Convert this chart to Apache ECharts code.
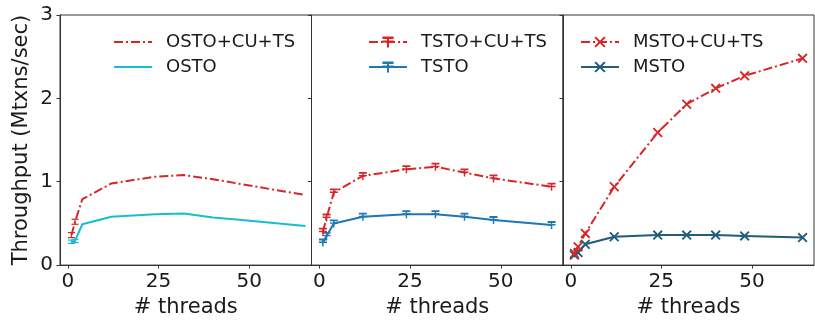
<!DOCTYPE html>
<html>
<head>
<meta charset="utf-8">
<script src="https://cdn.jsdelivr.net/npm/echarts@6/dist/echarts.min.js"></script>
<style>
html,body{margin:0;padding:0;background:#fff;}
#c{width:815px;height:323px;}
</style>
</head>
<body>
<div id="c"></div>
<script>
// ---- data ----
const threads = [1, 2, 4, 12, 24, 32, 40, 48, 64];
const threadsOsto = [1, 2, 4, 12, 24, 32, 40, 48, 65.5];
const ostoCuTs = [0.36, 0.52, 0.79, 0.98, 1.06, 1.08, 1.03, 0.97, 0.84];
const osto = [0.28, 0.29, 0.49, 0.58, 0.61, 0.62, 0.57, 0.54, 0.47];
const tstoCuTs = [0.40, 0.57, 0.87, 1.07, 1.15, 1.18, 1.11, 1.04, 0.94];
const tsto = [0.27, 0.35, 0.50, 0.58, 0.61, 0.61, 0.58, 0.54, 0.48];
const mstoCuTs = [0.14, 0.22, 0.38, 0.94, 1.59, 1.93, 2.12, 2.27, 2.48];
const msto = [0.12, 0.15, 0.25, 0.34, 0.36, 0.36, 0.36, 0.35, 0.33];
const errThreads = [1, 2];
const ostoCuTsErr = [0.03, 0.03];
const ostoErr = [0.02, 0.02];
const xTicks = [0, 25, 50];
const yTicks = [0, 1, 2, 3];

const RED = '#d62728';
const CYAN = '#17becf';
const BLUE = '#1f77b4';
const TEAL = '#1f5d78';
const FONT = 'DejaVu Sans';
const TXT = '#1a1a1a';

const pairs = (xs, ys) => xs.map((x, i) => [x, ys[i]]);
const errData = (xs, ys, es) => xs.map((x, i) => [x, ys[i], es[i]]);

const T_SYMBOL = 'path://M0,0H10V1.8H0Z M0,3H10V4.4H0Z M4.1,0H5.9V8H4.1Z';
const X_SYMBOL = 'path://M0,1.3L1.3,0L10,8.7L8.7,10Z M8.7,0L10,1.3L1.3,10L0,8.7Z';
const DASHDOT = [9, 3, 2, 3];

const gridLefts = [60, 311.5, 563];
const gridWidths = [251.5, 251.5, 251];

const grids = gridLefts.map((l, i) => ({
  left: l, top: 15, width: gridWidths[i], height: 254,
  show: true, borderColor: '#333', borderWidth: 1, containLabel: false
}));

const xAxes = gridLefts.map((l, i) => ({
  type: 'value', gridIndex: i, min: -2.15, max: 67.15,
  name: '# threads', nameLocation: 'middle', nameGap: 30,
  nameTextStyle: { fontFamily: FONT, fontSize: 21, color: TXT },
  axisLine: { show: true, onZero: false, lineStyle: { color: '#333', width: 1 } },
  axisTick: { show: true, inside: false, length: 3.5, customValues: xTicks, lineStyle: { color: '#333' } },
  axisLabel: { customValues: xTicks, margin: 7, fontFamily: FONT, fontSize: 20, color: TXT },
  splitLine: { show: false }
}));

const yAxes = gridLefts.map((l, i) => ({
  type: 'value', gridIndex: i, min: 0, max: 3, interval: 1,
  name: i === 0 ? 'Throughput (Mtxns/sec)' : '',
  nameLocation: 'middle', nameGap: 28, nameRotate: 90,
  nameTextStyle: { fontFamily: FONT, fontSize: 21, color: TXT },
  axisLine: { show: true, onZero: false, lineStyle: { color: '#333', width: 1 } },
  axisTick: { show: true, inside: false, length: 3.5, lineStyle: { color: '#333' } },
  axisLabel: { show: i === 0, margin: 7, fontFamily: FONT, fontSize: 20, color: TXT,
    formatter: v => yTicks.includes(v) ? String(v) : '' },
  splitLine: { show: false }
}));

function lineSeries(name, idx, xs, ys, color, dashed, symbol, symbolSize) {
  return {
    name: name, type: 'line', xAxisIndex: idx, yAxisIndex: idx,
    data: pairs(xs, ys),
    symbol: symbol || 'none', symbolSize: symbolSize || 0, showSymbol: !!symbol,
    lineStyle: { color: color, width: 2, type: dashed ? DASHDOT : 'solid' },
    itemStyle: { color: color, borderWidth: 0 },
    emphasis: { disabled: true }, animation: false, z: dashed ? 3 : 2
  };
}

function errSeries(idx, xs, ys, es, color) {
  return {
    type: 'custom', xAxisIndex: idx, yAxisIndex: idx,
    data: errData(xs, ys, es), animation: false, silent: true, z: 4,
    renderItem: function (params, api) {
      const x = api.value(0), y = api.value(1), e = api.value(2);
      const t = api.coord([x, y + e]);
      const b = api.coord([x, y - e]);
      const w = 3.5;
      const st = { stroke: color, lineWidth: 1.2 };
      return { type: 'group', children: [
        { type: 'line', shape: { x1: t[0], y1: t[1], x2: b[0], y2: b[1] }, style: st },
        { type: 'line', shape: { x1: t[0] - w, y1: t[1], x2: t[0] + w, y2: t[1] }, style: st },
        { type: 'line', shape: { x1: b[0] - w, y1: b[1], x2: b[0] + w, y2: b[1] }, style: st }
      ]};
    }
  };
}

const legendBase = {
  orient: 'vertical', itemWidth: 38, itemHeight: 14, itemGap: 7,
  textStyle: { fontFamily: FONT, fontSize: 18, color: TXT, padding: [0, 0, 0, 9] },
  selectedMode: false
};

const option = {
  backgroundColor: '#ffffff',
  animation: false,
  grid: grids,
  xAxis: xAxes,
  yAxis: yAxes,
  legend: [
    Object.assign({}, legendBase, { left: 108, top: 28, itemStyle: { opacity: 0 }, data: ['OSTO+CU+TS', 'OSTO'] }),
    Object.assign({}, legendBase, { left: 363, top: 28, data: ['TSTO+CU+TS', 'TSTO'] }),
    Object.assign({}, legendBase, { left: 575, top: 28, data: ['MSTO+CU+TS', 'MSTO'] })
  ],
  series: [
    lineSeries('OSTO+CU+TS', 0, threadsOsto, ostoCuTs, RED, true),
    lineSeries('OSTO', 0, threadsOsto, osto, CYAN, false),
    errSeries(0, errThreads, ostoCuTs.slice(0, 2), ostoCuTsErr, RED),
    errSeries(0, errThreads, osto.slice(0, 2), ostoErr, CYAN),
    lineSeries('TSTO+CU+TS', 1, threads, tstoCuTs, RED, true, T_SYMBOL, 8),
    lineSeries('TSTO', 1, threads, tsto, BLUE, false, T_SYMBOL, 8),
    lineSeries('MSTO+CU+TS', 2, threads, mstoCuTs, RED, true, X_SYMBOL, 10),
    lineSeries('MSTO', 2, threads, msto, TEAL, false, X_SYMBOL, 10)
  ]
};

const chart = echarts.init(document.getElementById('c'), null, { renderer: 'canvas' });
chart.setOption(option);
</script>
</body>
</html>
